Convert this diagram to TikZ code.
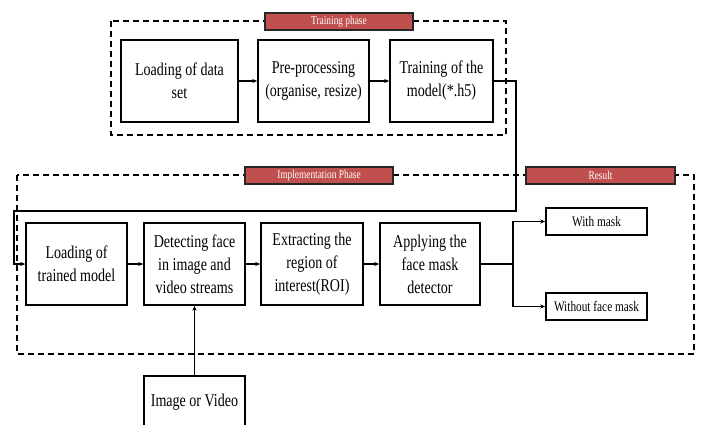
\documentclass[tikz,border=0pt]{standalone}
\usepackage{fontspec}
\setmainfont{Liberation Serif}[FakeStretch=0.78]
\usetikzlibrary{arrows.meta}
\definecolor{phasered}{HTML}{C0504D}

\begin{document}
\begin{tikzpicture}[x=1pt,y=-1pt,line width=1.3pt,
  >={Stealth[length=5pt,width=4pt]},
  box/.style={shape=rectangle,draw,align=center,inner sep=1pt,minimum height=82pt,line width=1.5pt,font=\fontsize{18}{23}\selectfont},
  phase/.style={shape=rectangle,draw=black!85,fill=phasered,text=white,minimum height=17pt,inner sep=0pt,line width=1.5pt,font=\fontsize{12}{14}\selectfont},
  result/.style={shape=rectangle,draw,minimum width=101pt,minimum height=27pt,inner sep=0pt,line width=1.5pt,font=\fontsize{14.5}{17}\selectfont},
  frame/.style={dash pattern=on 6pt off 4pt,line width=1.4pt}]
\clip (0,0) rectangle (702,424);

% training phase
\draw [frame] (111,21) rectangle (506,135);
\path (339,21.5) node (trainlbl) [phase, minimum width=148pt] {Training phase};

\path (179.5,81) node (loaddata) [box, minimum width=117pt] {Loading of data\\set};
\path (313.5,81) node (preproc) [box, minimum width=111pt] {Pre-processing\\(organise, resize)};
\path (441.5,81) node (train) [box, minimum width=103pt] {Training of the\\model(*.h5)};

\draw [->] (loaddata) to (preproc);
\draw [->] (preproc) to (train);

% implementation phase
\draw [frame] (17,175) rectangle (694,354);
\path (319,175.5) node (impllbl) [phase, minimum width=148pt] {Implementation Phase};
\path (600.5,175.5) node (reslbl) [phase, minimum width=149pt] {Result};

\path (76.5,264) node (loadmodel) [box, minimum width=101pt] {Loading of\\trained model};
\path (194.5,264) node (detect) [box, minimum width=101pt] {Detecting face\\in image and\\video streams};
\path (312,264) node (roi) [box, minimum width=102pt] {Extracting the\\region of\\interest(ROI)};
\path (430,264) node (apply) [box, minimum width=100pt] {Applying the\\face mask\\detector};

\path (596.5,221.5) node (withmask) [result] {With mask};
\path (596.5,306.5) node (nomask) [result] {Without face mask};

\path (194.5,402) node (input) [box, minimum width=101pt, minimum height=52pt] {Image or Video};

\coordinate (turn) at (516,211);
\coordinate (back) at (14,211);
\coordinate (split) at (513,264);

\draw [->] (train.east) -| (turn) -- (back) |- (loadmodel.west);
\draw [->] (loadmodel) to (detect);
\draw [->] (detect) to (roi);
\draw [->] (roi) to (apply);
\draw (apply.east) -- (split);
\draw [->] (split) |- (withmask.west);
\draw [->] (split) |- (nomask.west);
\draw [->] (input) to (detect);

\end{tikzpicture}
\end{document}
